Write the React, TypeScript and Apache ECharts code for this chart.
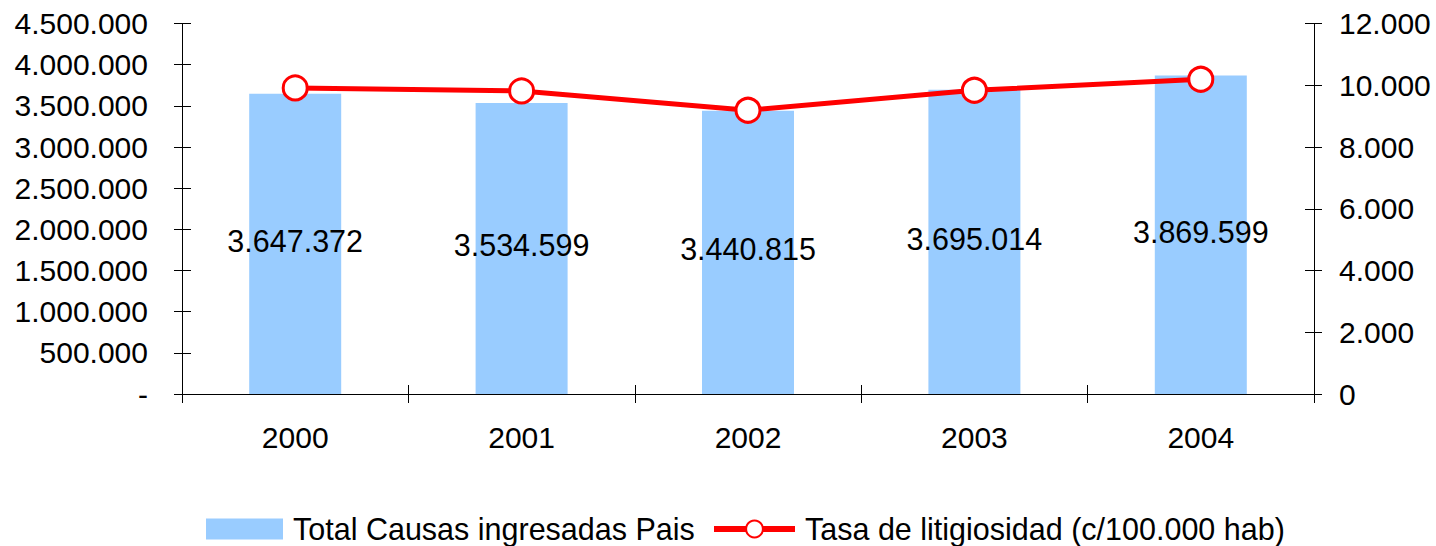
import React, { useEffect, useRef } from "react";
import * as echarts from "echarts";

const years = ["2000", "2001", "2002", "2003", "2004"];
const causas = [3647372, 3534599, 3440815, 3695014, 3869599];
const tasa = [9912, 9815, 9190, 9838, 10194];
const leftTicks = { min: 0, max: 4500000, interval: 500000 };
const rightTicks = { min: 0, max: 12000, interval: 2000 };
const barName = "Total Causas ingresadas Pais";
const lineName = "Tasa de litigiosidad (c/100.000 hab)";

const FONT = "'Liberation Sans', Arial, sans-serif";

function dots(v: number): string {
  return Math.round(v).toString().replace(/\B(?=(\d{3})+(?!\d))/g, ".");
}

export default function App() {
  const ref = useRef<HTMLDivElement>(null);
  useEffect(() => {
    if (!ref.current) return;
    const chart = echarts.init(ref.current, null, { renderer: "svg" });
    const grid = { left: 182, right: 122, top: 23.5, bottom: 546 - 394 };
    const tickStyle = { color: "#000", width: 1 };
    const legendText = {
      fontFamily: FONT,
      fontSize: 30.5,
      lineHeight: 31,
      color: "#000",
      padding: [0, 0, 14, 5],
    };
    chart.setOption({
      animation: false,
      backgroundColor: "#fff",
      textStyle: { fontFamily: FONT },
      grid,
      legend: [
        {
          left: 206,
          top: 506.5,
          itemWidth: 77,
          itemHeight: 21,
          padding: 0,
          textStyle: legendText,
          data: [{ name: barName, icon: "rect" }],
        },
        {
          left: 711,
          top: 506.5,
          itemWidth: 81,
          itemHeight: 21,
          padding: 0,
          textStyle: legendText,
          data: [{ name: lineName, lineStyle: { width: 6, color: "#FF0000" } }],
        },
      ],
      xAxis: [
        {
          type: "category",
          data: years,
          axisLine: { lineStyle: { color: "#000", width: 1 } },
          axisTick: { show: true, length: 9, lineStyle: tickStyle },
          axisLabel: { color: "#000", fontSize: 30, fontFamily: FONT, margin: 28 },
        },
        {
          type: "category",
          data: years,
          position: "bottom",
          axisLine: { show: false },
          axisTick: { show: true, inside: true, length: 9, lineStyle: tickStyle },
          axisLabel: { show: false },
        },
      ],
      yAxis: [
        {
          type: "value",
          ...leftTicks,
          position: "left",
          axisLine: { show: true, lineStyle: { color: "#000", width: 1 } },
          axisTick: { show: true, length: 8, lineStyle: tickStyle },
          splitLine: { show: false },
          axisLabel: {
            color: "#000",
            fontSize: 30,
            fontFamily: FONT,
            margin: 34,
            formatter: (v: number) => (v === 0 ? "-" : dots(v)),
          },
        },
        {
          type: "value",
          ...rightTicks,
          position: "right",
          axisLine: { show: true, lineStyle: { color: "#000", width: 1 } },
          axisTick: { show: true, length: 8, lineStyle: tickStyle },
          splitLine: { show: false },
          axisLabel: {
            color: "#000",
            fontSize: 30,
            fontFamily: FONT,
            margin: 25,
            formatter: (v: number) => dots(v),
          },
        },
        {
          type: "value",
          ...leftTicks,
          position: "left",
          axisLine: { show: false },
          axisTick: { show: true, inside: true, length: 9, lineStyle: tickStyle },
          splitLine: { show: false },
          axisLabel: { show: false },
        },
        {
          type: "value",
          ...rightTicks,
          position: "right",
          axisLine: { show: false },
          axisTick: { show: true, inside: true, length: 9, lineStyle: tickStyle },
          splitLine: { show: false },
          axisLabel: { show: false },
        },
      ],
      series: [
        {
          name: barName,
          type: "bar",
          data: causas,
          xAxisIndex: 0,
          yAxisIndex: 0,
          barWidth: 92,
          itemStyle: { color: "#99CCFF" },
          label: {
            show: true,
            position: "inside",
            offset: [0, -3],
            color: "#000",
            fontSize: 30.5,
            fontFamily: FONT,
            formatter: (p: any) => dots(p.value),
          },
          z: 2,
        },
        {
          name: lineName,
          type: "line",
          data: tasa,
          xAxisIndex: 0,
          yAxisIndex: 1,
          symbol: "circle",
          symbolSize: 24,
          lineStyle: { color: "#FF0000", width: 5 },
          itemStyle: { color: "#fff", borderColor: "#FF0000", borderWidth: 3 },
          z: 3,
        },
      ],
    });
    return () => chart.dispose();
  }, []);
  return <div ref={ref} style={{ width: 1436, height: 546, position: "absolute", left: 0, top: 0 }} />;
}
